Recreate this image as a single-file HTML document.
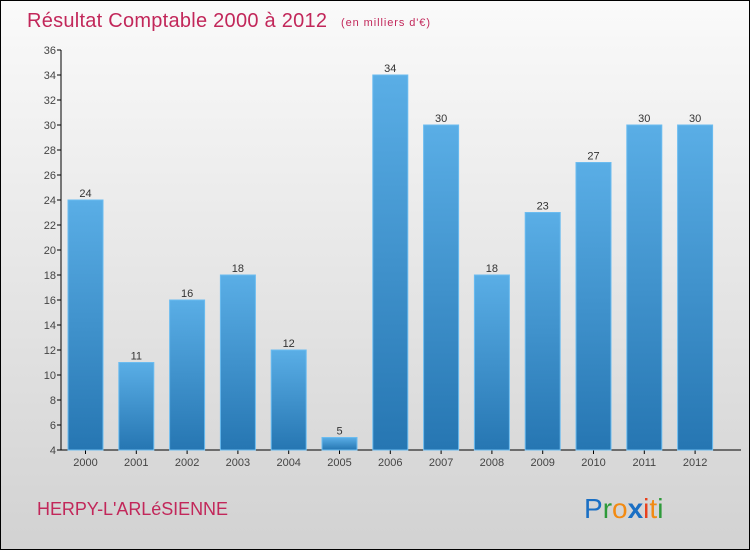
<!DOCTYPE html>
<html><head><meta charset="utf-8"><style>
body{margin:0}
#wrap{position:relative;width:748px;height:548px;border:1px solid #000;background:linear-gradient(#fafafa,#d2d2d2);font-family:"Liberation Sans",sans-serif;overflow:hidden}
</style></head><body>
<div id="wrap">
<svg id="chart" width="748" height="548">
<defs><linearGradient id="bg" x1="0" y1="0" x2="0" y2="1"><stop offset="0" stop-color="#5aaee6"/><stop offset="1" stop-color="#2676b2"/></linearGradient></defs>
<text x="26" y="26" font-size="20" fill="#c2275a" font-family="'Liberation Sans',sans-serif" textLength="300">Résultat Comptable 2000 à 2012</text>
<text x="340" y="25" font-size="11" fill="#c2275a" font-family="'Liberation Sans',sans-serif" textLength="89">(en milliers d'€)</text>
<text x="36" y="514" font-size="18" fill="#c2275a" font-family="'Liberation Sans',sans-serif" textLength="191">HERPY-L'ARLéSIENNE</text>
<g font-size="28" font-family="'Liberation Sans',sans-serif">
<text x="583" y="517"><tspan fill="#1a6fc4">P</tspan><tspan fill="#2e9a3a">r</tspan><tspan fill="#f28a12">o</tspan><tspan fill="#1a6fc4" font-weight="bold">x</tspan><tspan fill="#e8401c">i</tspan><tspan fill="#f28a12">t</tspan><tspan fill="#2e9a3a">i</tspan></text>
</g>
<g id="axes"></g><g id="bars"></g>
</svg>
</div>
<script>
const categories=["2000","2001","2002","2003","2004","2005","2006","2007","2008","2009","2010","2011","2012"];
const values=[24,11,16,18,12,5,34,30,18,23,27,30,30];
const yTicks=[4,6,8,10,12,14,16,18,20,22,24,26,28,30,32,34,36];
const NS="http://www.w3.org/2000/svg";
const yMin=4,yMax=36,plotTop=49,plotBot=449;
function y(v){return plotBot-(v-yMin)/(yMax-yMin)*(plotBot-plotTop);}
function x(i){return 84.5+i*50.8;}
const ax=document.getElementById('axes'),bg=document.getElementById('bars');
function mk(tag,attrs,parent,txt){const e=document.createElementNS(NS,tag);for(const k in attrs)e.setAttribute(k,attrs[k]);if(txt!==undefined)e.textContent=txt;parent.appendChild(e);return e;}
let l=mk('line',{x1:60,y1:plotTop,x2:60,y2:plotBot,stroke:'#000','stroke-width':1},ax);


l=mk('line',{x1:60,y1:plotBot,x2:740,y2:plotBot,stroke:'#000','stroke-width':1},ax);


yTicks.forEach(t=>{
 const tk=mk('line',{x1:56,y1:y(t),x2:60,y2:y(t),stroke:'#000'},ax);
 
 
 const tl=mk('text',{x:55,y:y(t)+4,'text-anchor':'end','font-size':11,fill:'#444'},ax,t);
 
 
});
categories.forEach((c,i)=>{
 const cx=x(i),yt=y(values[i]);
 const r=mk('rect',{x:cx-17.5,y:yt,width:35,height:plotBot-yt,fill:'url(#bg)',stroke:'#6bbcf0','stroke-width':1},bg);
 
 
 const vl=mk('text',{x:cx,y:yt-3,'text-anchor':'middle','font-size':11,fill:'#333'},bg,values[i]);
 
 
 const tk=mk('line',{x1:cx,y1:plotBot,x2:cx,y2:plotBot+4,stroke:'#000'},ax);
 
 
 const xl=mk('text',{x:cx,y:plotBot+16,'text-anchor':'middle','font-size':11,fill:'#444'},ax,c);
 
 
});
</script>
</body></html>
